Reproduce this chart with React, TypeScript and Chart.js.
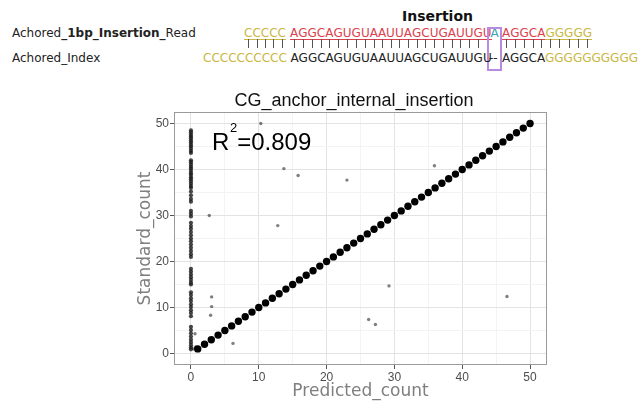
import React, { useEffect, useRef } from 'react';
import { Chart, registerables } from 'chart.js';

Chart.register(...registerables);

// ---- chart text ----
const CHART_TITLE = 'CG_anchor_internal_insertion';
const X_LABEL = 'Predicted_count';
const Y_LABEL = 'Standard_count';
const R2_VALUE = '0.809';
const R2_POS = [3.1, 45.7];

// ---- axis ticks ----
const AXIS_TICKS = [0, 5, 10, 15, 20, 25, 30, 35, 40, 45, 50];
const MAJOR_TICKS = [0, 10, 20, 30, 40, 50];

// ---- data: predicted == standard (diagonal) ----
const DIAG_X = [1, 2, 3, 4, 5, 6, 7, 8, 9, 10, 11, 12, 13, 14, 15, 16, 17, 18, 19, 20, 21, 22, 23, 24, 25, 26, 27, 28, 29, 30, 31, 32, 33, 34, 35, 36, 37, 38, 39, 40, 41, 42, 43, 44, 45, 46, 47, 48, 49, 50];
const DIAG_Y = [1, 2, 3, 4, 5, 6, 7, 8, 9, 10, 11, 12, 13, 14, 15, 16, 17, 18, 19, 20, 21, 22, 23, 24, 25, 26, 27, 28, 29, 30, 31, 32, 33, 34, 35, 36, 37, 38, 39, 40, 41, 42, 43, 44, 45, 46, 47, 48, 49, 50];

// ---- data: predicted ~ 0 column ----
const ZERO_Y = [
  48.5, 48.1, 47.6, 47.2, 46.8, 46.3, 45.9, 45.4, 45.0, 44.5, 44.0, 43.6,
  42.0, 41.6, 41.1, 40.6, 40.2, 39.7, 39.2, 38.8, 38.3, 37.9, 37.4, 36.9, 36.4, 36.0,
  35.2, 34.4, 33.6, 33.0,
  31.0, 30.4, 29.8,
  28.4, 27.7, 27.1, 26.4, 25.7, 25.0, 24.4, 23.7, 23.0, 22.3, 21.6, 21.0,
  18.4, 17.8, 17.2, 16.6, 16.0, 15.4, 15.0,
  13.3, 12.7, 12.0, 11.4, 10.7, 10.1, 9.4, 8.8, 8.1,
  5.8, 5.1, 4.4, 3.7, 3.0, 2.4, 1.8, 1.3, 0.9,
];
const ZERO_X = ZERO_Y.map(() => 0);

// ---- data: scattered outliers ----
const OUT_X = [10.3, 13.7, 15.8, 23.0, 35.9, 2.7, 12.8, 3.05, 3.05, 2.9, 6.2, 0.6, 26.2, 27.2, 29.2, 46.6, 0.4, 0.7];
const OUT_Y = [50.0, 40.2, 38.7, 37.7, 40.8, 30.0, 27.8, 12.3, 10.2, 8.3, 2.2, 4.3, 7.4, 6.3, 14.7, 12.4, 1.0, 1.4];

// ---- sequence text ----
const READ_LABEL = ['Achored', '_1bp_Insertion_', 'Read'];
const INDEX_LABEL = 'Achored_Index';
const INSERT_LABEL = 'Insertion';
const READ_FLANK_L = 'CCCCC';
const READ_CORE = 'AGGCAGUGUAAUUAGCUGAUUGU';
const READ_INSERT = 'A';
const READ_TAIL = 'AGGCA';
const READ_FLANK_R = 'GGGGG';
const INDEX_FLANK_L = 'CCCCCCCCCC';
const INDEX_CORE = 'AGGCAGUGUAAUUAGCUGAUUGU';
const INDEX_GAP = '--';
const INDEX_TAIL = 'AGGCA';
const INDEX_FLANK_R = 'GGGGGGGGGG';

const YELLOW = '#c9b743';
const RED = '#dd3f4c';
const TEAL = '#3ea6b3';
const PURPLE = '#b88be0';
const SEQFONT = '"DejaVu Sans", Verdana, sans-serif';

function Ticked({ text, color }: { text: string; color: string }) {
  return (
    <>
      {text.split('').map((ch, i) => (
        <span key={i} style={{ position: 'relative', display: 'inline-block', color }}>
          {ch}
          <span style={{ position: 'absolute', left: 0, right: 0, top: 13, height: 1, background: color }} />
          <span style={{ position: 'absolute', left: '50%', top: 13, width: 1, height: 9, background: '#555' }} />
        </span>
      ))}
    </>
  );
}

const isMajor = (v: number) => MAJOR_TICKS.includes(v);

const panelBorder = {
  id: 'panelBorder',
  afterDraw(chart: any) {
    const { ctx, chartArea: a } = chart;
    ctx.save();
    ctx.strokeStyle = '#9a9a9a';
    ctx.lineWidth = 1;
    ctx.strokeRect(Math.round(a.left) + 0.5, Math.round(a.top) + 0.5, Math.round(a.right - a.left) - 1, Math.round(a.bottom - a.top) - 1);
    ctx.restore();
  },
};

const r2Label = {
  id: 'r2Label',
  afterDatasetsDraw(chart: any) {
    const { ctx, scales } = chart;
    const x = scales.x.getPixelForValue(R2_POS[0]);
    const y = scales.y.getPixelForValue(R2_POS[1]);
    ctx.save();
    ctx.fillStyle = '#000';
    ctx.textBaseline = 'middle';
    ctx.textAlign = 'left';
    ctx.font = '24px "Liberation Sans", Arial, sans-serif';
    ctx.fillText('R', x, y);
    const wR = ctx.measureText('R').width;
    ctx.font = '13px "Liberation Sans", Arial, sans-serif';
    ctx.fillText('2', x + wR + 0.7, y - 14.5);
    const w2 = ctx.measureText('2').width;
    ctx.font = '24px "Liberation Sans", Arial, sans-serif';
    ctx.fillText('=' + R2_VALUE, x + wR + 0.7 + w2, y);
    ctx.restore();
  },
};

const setTicks = (scale: any) => {
  scale.ticks = AXIS_TICKS.map((v) => ({ value: v }));
};

const tickFont = { family: '"Liberation Sans", Arial, sans-serif', size: 12 };
const titleFont = { family: '"DejaVu Sans", sans-serif', size: 17 };

export default function App() {
  const ref = useRef<HTMLCanvasElement>(null);
  useEffect(() => {
    const canvas = ref.current;
    if (!canvas) return;
    const gridCfg = {
      color: (c: any) => (c.tick && isMajor(c.tick.value) ? '#e3e3e3' : '#f3f3f3'),
      tickColor: (c: any) => (c.tick && isMajor(c.tick.value) ? '#555' : 'rgba(0,0,0,0)'),
      tickLength: 4,
      lineWidth: 1,
    };
    const chart = new Chart(canvas, {
      type: 'scatter',
      data: {
        datasets: [
          {
            label: 'zero',
            data: ZERO_X.map((x, i) => ({ x, y: ZERO_Y[i] })),
            pointRadius: 2.1,
            pointBackgroundColor: 'rgba(25,25,25,0.8)',
            pointBorderWidth: 0,
            yAxisID: 'y',
          },
          {
            label: 'outliers',
            data: OUT_X.map((x, i) => ({ x, y: OUT_Y[i] })),
            pointRadius: 1.7,
            pointBackgroundColor: 'rgba(0,0,0,0.5)',
            pointBorderWidth: 0,
            yAxisID: 'y',
          },
          {
            label: 'diagonal',
            data: DIAG_X.map((x, i) => ({ x, y: DIAG_Y[i] })),
            pointRadius: 3.7,
            pointBackgroundColor: '#000',
            pointBorderWidth: 0,
            yAxisID: 'y',
          },
        ],
      },
      options: {
        responsive: false,
        animation: false,
        devicePixelRatio: 1,
        layout: { padding: { left: 64, right: 0, top: 0, bottom: 0 } },
        plugins: {
          legend: { display: false },
          tooltip: { enabled: false },
          title: {
            display: true,
            text: CHART_TITLE,
            color: '#111',
            fullSize: true,
            font: { family: '"Liberation Sans", Arial, sans-serif', size: 18, weight: 'normal' },
            padding: { top: 10.4, bottom: 0 },
          },
        },
        scales: {
          x: {
            type: 'linear',
            min: -2.5,
            max: 52.5,
            afterBuildTicks: setTicks,
            afterFit: (s: any) => { s.height = 38; },
            border: { display: false },
            grid: gridCfg,
            ticks: {
              autoSkip: false,
              maxRotation: 0,
              padding: 1,
              color: '#4d4d4d',
              font: tickFont,
              callback: (v: any) => (isMajor(Number(v)) ? String(v) : ''),
            },
            title: { display: true, text: X_LABEL, color: '#7f7f7f', font: titleFont, padding: { top: 0, bottom: 1.5 } },
          },
          y: {
            type: 'linear',
            position: 'left',
            min: -2.5,
            max: 52.5,
            afterBuildTicks: setTicks,
            afterFit: (s: any) => { s.width = 110; },
            border: { display: false },
            grid: gridCfg,
            ticks: {
              autoSkip: false,
              padding: 1,
              color: '#4d4d4d',
              font: tickFont,
              callback: (v: any) => (isMajor(Number(v)) ? String(v) : ''),
            },
            title: { display: true, text: Y_LABEL, color: '#7f7f7f', font: titleFont, padding: { top: 71.8, bottom: 0 } },
          },
          yR: {
            type: 'linear',
            position: 'right',
            display: true,
            min: 0,
            max: 1,
            afterFit: (s: any) => { s.width = 97; },
            border: { display: false },
            grid: { display: false, drawTicks: false },
            ticks: { display: false },
          },
        },
      } as any,
      plugins: [panelBorder, r2Label],
    });
    return () => chart.destroy();
  }, []);

  const rowStyle = (left: number, top: number): React.CSSProperties => ({
    position: 'absolute', left, top, fontSize: 12, lineHeight: '14px', whiteSpace: 'pre',
  });

  return (
    <div style={{ position: 'absolute', left: 0, top: 0, width: 644, height: 403, background: '#fff', overflow: 'hidden', fontFamily: SEQFONT, color: '#222' }}>
      <div style={{ position: 'absolute', left: 402, top: 8, fontSize: 14, fontWeight: 'bold', lineHeight: '16px', color: '#111' }}>{INSERT_LABEL}</div>
      <div style={rowStyle(12, 26)}>{READ_LABEL[0]}<b>{READ_LABEL[1]}</b>{READ_LABEL[2]}</div>
      <div style={rowStyle(12, 51)}>{INDEX_LABEL}</div>

      <div style={rowStyle(244, 26)}><Ticked text={READ_FLANK_L} color={YELLOW} /></div>
      <div style={rowStyle(290, 26)}><Ticked text={READ_CORE} color={RED} /></div>
      <div style={{ ...rowStyle(490.5, 26), color: TEAL }}>{READ_INSERT}</div>
      <div style={rowStyle(502, 26)}><Ticked text={READ_TAIL} color={RED} /><Ticked text={READ_FLANK_R} color={YELLOW} /></div>
      <div style={{ position: 'absolute', left: 487, top: 27, width: 15, height: 44, border: `2px solid ${PURPLE}`, boxSizing: 'border-box' }} />

      <div style={rowStyle(203, 51)}><span style={{ color: YELLOW }}>{INDEX_FLANK_L}</span>{' ' + INDEX_CORE}</div>
      <div style={rowStyle(489, 51)}>{INDEX_GAP}</div>
      <div style={rowStyle(502, 51)}>{INDEX_TAIL}<span style={{ color: YELLOW }}>{INDEX_FLANK_R}</span></div>

      <canvas ref={ref} width={644} height={323} style={{ position: 'absolute', left: 0, top: 80, width: 644, height: 323 }} />
    </div>
  );
}
